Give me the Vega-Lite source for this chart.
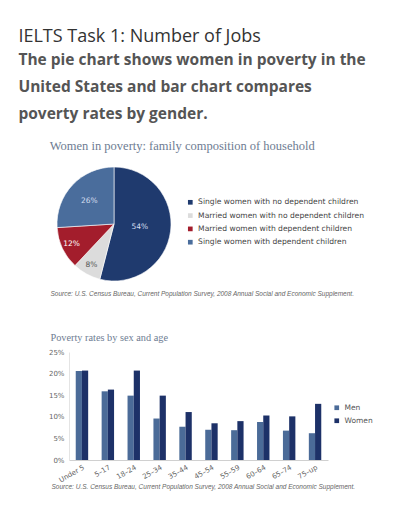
{
  "$schema": "https://vega.github.io/schema/vega-lite/v6.json",
  "background": "white",
  "padding": {"left": 18, "top": 27, "right": 0, "bottom": 0},
  "config": {"view": {"stroke": null}, "font": "DejaVu Sans"},
  "title": {
    "text": "IELTS Task 1: Number of Jobs",
    "subtitle": ["The pie chart shows women in poverty in the", "United States and bar chart compares", "poverty rates by gender."],
    "anchor": "start",
    "dx": -30,
    "font": "Open Sans",
    "fontSize": 18,
    "fontWeight": "normal",
    "color": "#333333",
    "subtitleFont": "Open Sans",
    "subtitleFontSize": 15.5,
    "subtitleFontWeight": "bold",
    "subtitleColor": "#555555",
    "subtitleLineHeight": 27,
    "subtitlePadding": 7,
    "offset": 18
  },
  "spacing": 8,
  "resolve": {"scale": {"color": "independent"}, "legend": {"color": "independent"}},
  "vconcat": [
    {
      "width": 90,
      "height": 114,
      "title": {"text": "Women in poverty: family composition of household", "font": "Liberation Serif", "fontSize": 12.5, "fontWeight": "normal", "color": "#6e7c92", "anchor": "start", "offset": 13, "dx": -6},
      "data": {"values": [
        {"category": "Single women with no dependent children", "pct": 54, "rank": 1},
        {"category": "Married women with no dependent children", "pct": 8, "rank": 2},
        {"category": "Married women with dependent children", "pct": 12, "rank": 3},
        {"category": "Single women with dependent children", "pct": 26, "rank": 4}
      ]},
      "transform": [
        {"stack": "pct", "groupby": [], "sort": [{"field": "rank", "order": "ascending"}], "as": ["t0", "t1"]},
        {"calculate": "(datum.t0 + datum.t1) / 2", "as": "mid"},
        {"calculate": "datum.pct + '%'", "as": "label"}
      ],
      "layer": [
        {
          "mark": {"type": "arc", "radius": 57, "stroke": "#ffffff", "strokeWidth": 0.6},
          "encoding": {
            "theta": {"field": "t0", "type": "quantitative", "scale": {"domain": [0, 100]}},
            "theta2": {"field": "t1"},
            "color": {
              "field": "category", "type": "nominal",
              "sort": ["Single women with no dependent children", "Married women with no dependent children", "Married women with dependent children", "Single women with dependent children"],
              "scale": {"domain": ["Single women with no dependent children", "Married women with no dependent children", "Married women with dependent children", "Single women with dependent children"], "range": ["#1f3a6e", "#dcdcdc", "#a31d2c", "#4a6d9c"]},
              "legend": {"title": null, "orient": "none", "legendX": 117.5, "legendY": 31.5, "symbolType": "square", "symbolSize": 22, "symbolStrokeWidth": 0, "labelFont": "DejaVu Sans", "labelFontSize": 7.6, "labelColor": "#444444", "rowPadding": 4.3, "labelOffset": 4, "labelLimit": 300}
            }
          }
        },
        {
          "transform": [{"filter": "datum.pct == 54"}],
          "mark": {"type": "text", "radius": 26, "font": "DejaVu Sans", "fontSize": 7.5, "color": "#d5dff0"},
          "encoding": {
            "theta": {"field": "mid", "type": "quantitative"},
            "text": {"field": "label"}
          }
        },
        {
          "transform": [{"filter": "datum.pct == 26"}],
          "mark": {"type": "text", "radius": 34, "font": "DejaVu Sans", "fontSize": 7.5, "color": "#d5dff0"},
          "encoding": {
            "theta": {"field": "mid", "type": "quantitative"},
            "text": {"field": "label"}
          }
        },
        {
          "transform": [{"filter": "datum.pct < 20"}],
          "mark": {"type": "text", "radius": 47, "font": "DejaVu Sans", "fontSize": 7.5},
          "encoding": {
            "theta": {"field": "mid", "type": "quantitative"},
            "text": {"field": "label"},
            "color": {"condition": {"test": "datum.pct < 10", "value": "#555555"}, "value": "#ffffff"}
          }
        }
      ]
    },
    {
      "width": 259,
      "height": 108,
      "title": {
        "text": "Source: U.S. Census Bureau, Current Population Survey, 2008 Annual Social and Economic Supplement.",
        "subtitle": "Poverty rates by sex and age",
        "anchor": "start", "dx": 2,
        "font": "Liberation Sans", "fontSize": 6.5, "fontStyle": "italic", "fontWeight": "normal", "color": "#666666",
        "subtitleFont": "Liberation Serif", "subtitleFontSize": 10.3, "subtitleColor": "#6e7c92", "subtitlePadding": 35,
        "offset": 5
      },
      "data": {"values": [
        {"age": "Under 5", "sex": "Men", "rate": 20.6},
        {"age": "Under 5", "sex": "Women", "rate": 20.7},
        {"age": "5–17", "sex": "Men", "rate": 15.9},
        {"age": "5–17", "sex": "Women", "rate": 16.3},
        {"age": "18–24", "sex": "Men", "rate": 14.9},
        {"age": "18–24", "sex": "Women", "rate": 20.7},
        {"age": "25–34", "sex": "Men", "rate": 9.6},
        {"age": "25–34", "sex": "Women", "rate": 14.9},
        {"age": "35–44", "sex": "Men", "rate": 7.7},
        {"age": "35–44", "sex": "Women", "rate": 11.1},
        {"age": "45–54", "sex": "Men", "rate": 7.0},
        {"age": "45–54", "sex": "Women", "rate": 8.5},
        {"age": "55–59", "sex": "Men", "rate": 6.9},
        {"age": "55–59", "sex": "Women", "rate": 9.0},
        {"age": "60–64", "sex": "Men", "rate": 8.8},
        {"age": "60–64", "sex": "Women", "rate": 10.3},
        {"age": "65–74", "sex": "Men", "rate": 6.8},
        {"age": "65–74", "sex": "Women", "rate": 10.1},
        {"age": "75–up", "sex": "Men", "rate": 6.2},
        {"age": "75–up", "sex": "Women", "rate": 13.0}
      ]},
      "mark": {"type": "bar"},
      "encoding": {
        "x": {
          "field": "age", "type": "nominal", "sort": null,
          "scale": {"paddingInner": 0.52, "paddingOuter": 0.26},
          "axis": {
            "title": "Source: U.S. Census Bureau, Current Population Survey, 2008 Annual Social and Economic Supplement.",
            "titleFont": "Liberation Sans", "titleFontSize": 6.5, "titleFontStyle": "italic", "titleFontWeight": "normal", "titleColor": "#666666",
            "titleAnchor": "start", "titleAlign": "left", "titleX": -18, "titlePadding": 1,
            "labelAngle": -30, "labelAlign": "right", "labelBaseline": "top", "labelFont": "DejaVu Sans", "labelFontSize": 7, "labelColor": "#666666", "ticks": false, "domainColor": "#d0d0d0", "labelPadding": 3
          }
        },
        "xOffset": {"field": "sex", "type": "nominal", "sort": ["Men", "Women"]},
        "y": {
          "field": "rate", "type": "quantitative",
          "scale": {"domain": [0, 25]},
          "axis": {"title": null, "values": [0, 5, 10, 15, 20, 25], "labelExpr": "datum.value + '%'", "grid": false, "ticks": false, "domainColor": "#e4e4e4", "labelFont": "DejaVu Sans", "labelFontSize": 7, "labelColor": "#666666", "labelPadding": 5}
        },
        "color": {
          "field": "sex", "type": "nominal",
          "scale": {"domain": ["Men", "Women"], "range": ["#4b6b98", "#1d3168"]},
          "legend": {"title": null, "orient": "none", "legendX": 264, "legendY": 52, "symbolType": "square", "symbolSize": 22, "symbolStrokeWidth": 0, "labelFont": "DejaVu Sans", "labelFontSize": 7.5, "labelColor": "#555555", "rowPadding": 4, "labelOffset": 4}
        }
      }
    }
  ]
}
